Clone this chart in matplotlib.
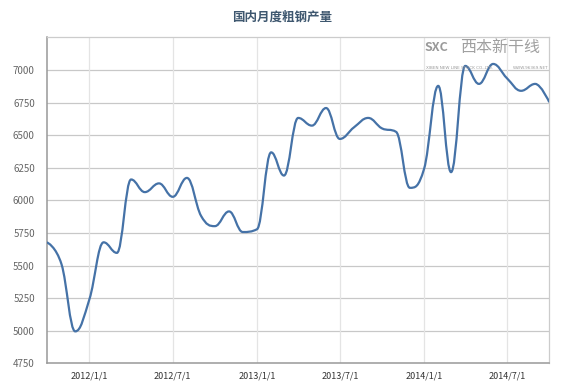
import numpy as np
import matplotlib
matplotlib.use('Agg')
import matplotlib.pyplot as plt
import matplotlib.dates as mdates
from matplotlib.path import Path
from matplotlib.patches import PathPatch
from datetime import date

plt.rcParams['font.family'] = ['Noto Sans CJK SC', 'DejaVu Sans']

# monthly crude steel output (10k tonnes), Oct 2011 - Oct 2014
months = [date(2011 + (9 + i) // 12, (9 + i) % 12 + 1, 1) for i in range(37)]
output = [5676, 5510, 4995, 5242, 5678, 5597, 6160, 6063, 6130, 6027,
          6172, 5880, 5802, 5915, 5757, 5778, 6368, 6190, 6632, 6573,
          6708, 6471, 6560, 6632, 6552, 6525, 6096, 6240, 6878, 6216,
          7031, 6893, 7046, 6937, 6840, 6893, 6757]

x_ticks = [date(2012, 1, 1), date(2012, 7, 1), date(2013, 1, 1),
           date(2013, 7, 1), date(2014, 1, 1), date(2014, 7, 1)]
x_labels = ['2012/1/1', '2012/7/1', '2013/1/1', '2013/7/1', '2014/1/1', '2014/7/1']
y_ticks = [4750, 5000, 5250, 5500, 5750, 6000, 6250, 6500, 6750, 7000]

title = '国内月度粗钢产量'


def spline_path(xs, ys, smoothing=1.5):
    '''
    builds a smooth bezier path through the points (highcharts style spline)
    '''
    n = len(xs)
    left = [(xs[i], ys[i]) for i in range(n)]
    right = [(xs[i], ys[i]) for i in range(n)]
    for i in range(1, n - 1):
        lx = (smoothing * xs[i] + xs[i - 1]) / (smoothing + 1)
        ly = (smoothing * ys[i] + ys[i - 1]) / (smoothing + 1)
        rx = (smoothing * xs[i] + xs[i + 1]) / (smoothing + 1)
        ry = (smoothing * ys[i] + ys[i + 1]) / (smoothing + 1)
        if rx != lx:
            corr = (ry - ly) * (rx - xs[i]) / (rx - lx) + ys[i] - ry
            ly += corr
            ry += corr
        # keep control points from overshooting the neighbours
        if ly > ys[i - 1] and ly > ys[i]:
            ly = max(ys[i - 1], ys[i])
            ry = 2 * ys[i] - ly
        elif ly < ys[i - 1] and ly < ys[i]:
            ly = min(ys[i - 1], ys[i])
            ry = 2 * ys[i] - ly
        if ry > ys[i + 1] and ry > ys[i]:
            ry = max(ys[i + 1], ys[i])
            ly = 2 * ys[i] - ry
        elif ry < ys[i + 1] and ry < ys[i]:
            ry = min(ys[i + 1], ys[i])
            ly = 2 * ys[i] - ry
        left[i] = (lx, ly)
        right[i] = (rx, ry)
    verts = [(xs[0], ys[0])]
    codes = [Path.MOVETO]
    for i in range(1, n):
        verts += [right[i - 1], left[i], (xs[i], ys[i])]
        codes += [Path.CURVE4] * 3
    return Path(verts, codes)


fig = plt.figure(figsize=(5.64, 3.89), dpi=100)
ax = fig.add_axes([0.0839, 0.066, 0.8895, 0.838])

xnum = mdates.date2num(months)
path = spline_path(list(xnum), list(output))
ax.add_patch(PathPatch(path, facecolor='none', edgecolor='#4572A7', lw=1.6,
                       capstyle='round', joinstyle='round', zorder=3))

ax.set_xlim(xnum[0], xnum[-1])
ax.set_ylim(4750, 7250)
ax.set_yticks(y_ticks)
ax.set_yticklabels([str(v) for v in y_ticks], fontsize=7, color='#666666')
ax.set_xticks(mdates.date2num(x_ticks))
ax.set_xticklabels(x_labels, fontsize=6.5, color='#333333')
ax.tick_params(axis='y', length=0, pad=9)
ax.tick_params(axis='x', length=0, pad=6)

# grid lines
for v in y_ticks[1:]:
    ax.axhline(v, color='#c8c8c8', lw=0.9, zorder=1)
for t in mdates.date2num(x_ticks):
    ax.axvline(t, color='#e4e4e4', lw=0.9, zorder=1)

for s in ['top', 'right']:
    ax.spines[s].set_color('#cccccc')
    ax.spines[s].set_linewidth(0.9)
for s in ['left', 'bottom']:
    ax.spines[s].set_color('#999999')
    ax.spines[s].set_linewidth(1.1)

fig.text(0.5, 0.957, title, ha='center', va='center', fontsize=9,
         fontweight='bold', color='#3E576F')

# watermark
fig.text(0.752, 0.877, 'SXC', fontsize=9, fontweight='bold', color='#999999',
         ha='left', va='center')
fig.text(0.815, 0.877, '西本新干线', fontsize=11.5, color='#a0a0a0',
         ha='left', va='center')
fig.text(0.755, 0.826, 'XIBEN NEW LINE STOCK CO.,LTD.', fontsize=3, color='#999999',
         ha='left', va='center', family='DejaVu Sans')
fig.text(0.972, 0.826, 'WWW.96369.NET', fontsize=3, color='#999999',
         ha='right', va='center', family='DejaVu Sans')

fig.savefig('out.png', dpi=100)
